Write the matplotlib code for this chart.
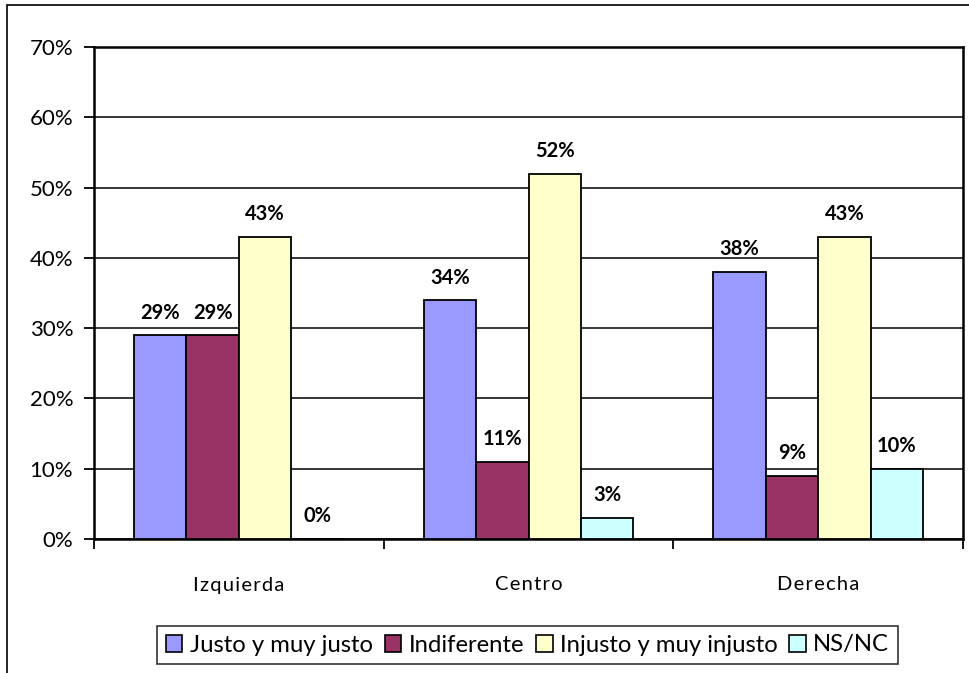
import matplotlib
matplotlib.use("Agg")
import matplotlib.pyplot as plt
import numpy as np
from matplotlib.patches import Patch, Rectangle

categories = ["Izquierda", "Centro", "Derecha"]
series_names = ["Justo y muy justo", "Indiferente", "Injusto y muy injusto", "NS/NC"]
justo = [29, 34, 38]
indiferente = [29, 11, 9]
injusto = [43, 52, 43]
nsnc = [0, 3, 10]
yticks = [0, 10, 20, 30, 40, 50, 60, 70]

colors = ["#9999FF", "#993366", "#FFFFCC", "#CCFFFF"]

plt.rcParams.update({
    "font.family": ["Lato", "DejaVu Sans"],
    "font.size": 14,
})


def spaced(s):
    # Excel-style letter spacing on category labels
    return "\u200a".join(s)


fig = plt.figure(figsize=(9.7, 6.73), dpi=100)
# outer chart frame (cropped on right and bottom)
fig.patches.append(Rectangle((7 / 970, -0.05), 1.1, 1 - 5 / 673 + 0.05,
                             transform=fig.transFigure, fill=False,
                             edgecolor="black", linewidth=1.2))

ax = fig.add_axes([94 / 970, 1 - 539 / 673, (963 - 94) / 970, (539 - 47) / 673])

x = np.arange(len(categories))
width = 0.181
all_series = [justo, indiferente, injusto, nsnc]
for i, (vals, col) in enumerate(zip(all_series, colors)):
    pos = x + (i - 1.5) * width
    ax.bar(pos, vals, width=width, color=col, edgecolor="black",
           linewidth=1.3, zorder=3)
    for px, v in zip(pos, vals):
        ax.annotate(f"{v}%", (px, v), xytext=(0, 9), textcoords="offset points",
                    ha="center", va="bottom", fontweight="bold", fontsize=14.5)

ax.set_xlim(-0.5, 2.5)
ax.set_ylim(0, 70)
ax.set_yticks(yticks)
ax.set_yticklabels([f"{t}%" for t in yticks])
ax.yaxis.grid(True, color="black", linewidth=1.1, zorder=0)
ax.set_axisbelow(True)

ax.set_xticks(x)
ax.set_xticklabels([spaced(c) for c in categories])
ax.set_xticks(np.arange(-0.5, 3, 1), minor=True)
ax.tick_params(axis="x", which="major", length=0, pad=27, labelsize=14.5)
ax.tick_params(axis="x", which="minor", length=7, width=1.3, direction="out")
ax.tick_params(axis="y", length=7, width=1.3, direction="out", pad=8, labelsize=16)

for side in ["left", "bottom", "top", "right"]:
    ax.spines[side].set_color("black")
    ax.spines[side].set_linewidth(1.8)

handles = [Patch(facecolor=c, edgecolor="black", linewidth=1.2) for c in colors]
leg = fig.legend(handles, series_names, loc="center",
                 bbox_to_anchor=(527.5 / 970, 1 - 645 / 673), ncol=4,
                 fontsize=17.2, frameon=True, fancybox=False,
                 handlelength=0.7, handleheight=0.7, handletextpad=0.3,
                 columnspacing=0.5, borderpad=0.35)
leg.get_frame().set_edgecolor("black")
leg.get_frame().set_linewidth(1.2)

fig.savefig("out.png", dpi=100)
